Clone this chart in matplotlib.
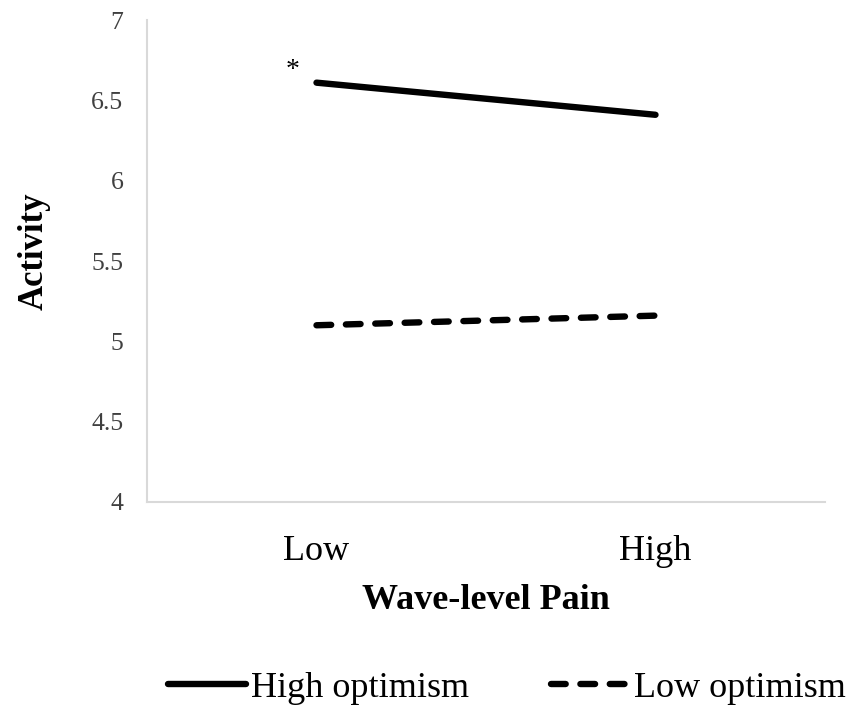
import matplotlib.pyplot as plt

plt.rcParams['font.family'] = ['Liberation Serif', 'DejaVu Serif']

categories = ['Low', 'High']
high_optimism = [6.61, 6.41]
low_optimism = [5.10, 5.16]
y_ticks = [4, 4.5, 5, 5.5, 6, 6.5, 7]
y_tick_labels = ['4', '4.5', '5', '5.5', '6', '6.5', '7']

fig = plt.figure(figsize=(8.56, 7.17), dpi=100, facecolor='white')
ax = fig.add_axes([147/856, 1-502/717, (825-147)/856, (502-20)/717])

x = list(range(len(categories)))
ax.plot(x, high_optimism, color='black', lw=4.6, solid_capstyle='round',
        label='High optimism')
ax.plot(x, low_optimism, color='black', lw=4.6, dashes=(2.3, 2.3),
        dash_capstyle='round', label='Low optimism')

# significance marker next to the first point
ax.annotate('*', xy=(x[0], high_optimism[0]), xytext=(-17, 0),
            textcoords='offset points', ha='center', va='bottom', fontsize=20)

ax.set_xlim(-0.5, 1.5)
ax.set_ylim(4, 7)
ax.set_xticks(x)
ax.set_xticklabels(categories, fontsize=26)
ax.set_yticks(y_ticks)
ax.set_yticklabels(y_tick_labels, fontsize=18.5, color='#404040')
ax.tick_params(length=0)
ax.tick_params(axis='x', pad=24)
ax.tick_params(axis='y', pad=17)

for s in ['top', 'right']:
    ax.spines[s].set_visible(False)
for s in ['left', 'bottom']:
    ax.spines[s].set_color('#d9d9d9')
    ax.spines[s].set_linewidth(1.5)

ax.set_xlabel('Wave-level Pain', fontsize=26, fontweight='bold', labelpad=11)
ax.set_ylabel('Activity', fontsize=25, fontweight='bold', va='center')
ax.yaxis.set_label_coords(-0.166, 0.52)

fig.legend(loc='center', bbox_to_anchor=(507/856, 1-688/717), ncol=2, frameon=False,
           fontsize=26, handlelength=2.15, handletextpad=0.15, columnspacing=2.25)

fig.savefig('out.png', dpi=100, facecolor='white')
